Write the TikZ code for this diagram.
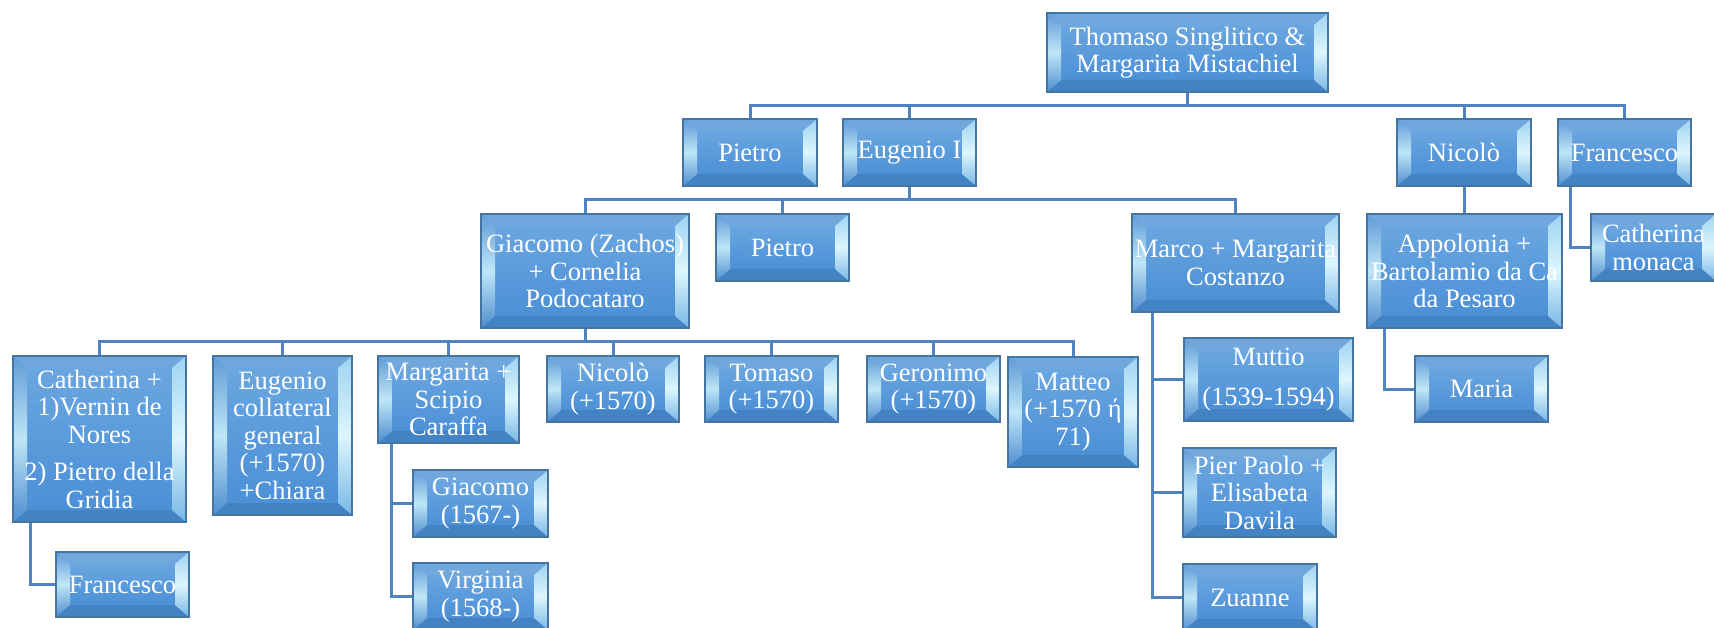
\documentclass[tikz,border=0pt]{standalone}
\usepackage{fontspec}
\setmainfont{Liberation Serif}
\usetikzlibrary{calc,backgrounds}

% palette of the bevelled boxes and the connectors
\definecolor{boxline}{HTML}{44749F}
\definecolor{faceTop}{HTML}{6AA6E0}
\definecolor{faceBot}{HTML}{4C90D6}
\definecolor{facetTop}{HTML}{70A8DE}
\definecolor{facetBot}{HTML}{4483C3}
\definecolor{leftTop}{HTML}{5E9BD6}
\definecolor{leftMid}{HTML}{BFE6F7}
\definecolor{leftBot}{HTML}{4F8DCF}
\definecolor{rightTop}{HTML}{9ED3F2}
\definecolor{rightMid}{HTML}{DDF6FD}
\definecolor{rightBot}{HTML}{78B7E6}
\definecolor{linkcol}{HTML}{4F83BF}

\tikzset{
  bev/.style={rectangle, draw=boxline, line width=1.2pt, fill=faceBot,
    inner sep=0pt, text=white, align=center,
    font=\fontsize{26.5}{27.5}\selectfont,
    path picture={
      \coordinate (bNW) at (path picture bounding box.north west);
      \coordinate (bNE) at (path picture bounding box.north east);
      \coordinate (bSW) at (path picture bounding box.south west);
      \coordinate (bSE) at (path picture bounding box.south east);
      \coordinate (iNW) at ($(bNW)+(14pt,-12pt)$);
      \coordinate (iNE) at ($(bNE)+(-14pt,-12pt)$);
      \coordinate (iSW) at ($(bSW)+(14pt,12pt)$);
      \coordinate (iSE) at ($(bSE)+(-14pt,12pt)$);
      \shade[top color=faceTop, bottom color=faceBot] (iNW) rectangle (iSE);
      \fill[facetTop] (bNW) -- (bNE) -- (iNE) -- (iNW) -- cycle;
      \fill[facetBot] (bSW) -- (bSE) -- (iSE) -- (iSW) -- cycle;
      \shade[top color=leftTop, bottom color=leftBot, middle color=leftMid]
        (bNW) -- (iNW) -- (iSW) -- (bSW) -- cycle;
      \shade[top color=rightTop, bottom color=rightBot, middle color=rightMid]
        (bNE) -- (iNE) -- (iSE) -- (bSE) -- cycle;
    }},
  box/.style 2 args={bev, minimum width=#1pt, minimum height=#2pt},
  link/.style={draw=linkcol, line width=3pt}
}

\begin{document}
\begin{tikzpicture}[x=1pt, y=-1pt]
\useasboundingbox (0,0) rectangle (1714,628);

% generation 0
\node[box={281}{79}] (thomaso) at (1187.5,52.5) {Thomaso Singlitico \&\\Margarita Mistachiel};

% generation 1
\node[box={134}{67}] (pietroA)    at (750,152.5)    {Pietro};
\node[box={133}{67}] (eugenio)    at (909.5,152.5)  {Eugenio I};
\node[box={134}{67}] (nicoloA)    at (1464,152.5)   {Nicolò};
\node[box={133}{67}] (francescoA) at (1624.5,152.5) {Francesco};

% generation 2
\node[box={208}{114}] (giacomo)   at (585,271)      {Giacomo (Zachos)\\+ Cornelia\\Podocataro};
\node[box={133}{67}]  (pietroB)   at (782.5,247.5)  {Pietro};
\node[box={207}{98}]  (marco)     at (1235.5,263)   {Marco + Margarita\\Costanzo};
\node[box={195}{114}] (appolonia) at (1464.5,271)   {Appolonia +\\Bartolamio da Ca\\da Pesaro};
\node[box={125}{67}]  (catmonaca) at (1653.5,247.5) {Catherina\\monaca};

% generation 3
\node[box={173}{166}] (catherinaB) at (99.5,439)   {Catherina +\\1)Vernin de\\Nores\\[10pt]2) Pietro della\\Gridia};
\node[box={139}{159}] (eugenioC)   at (282.5,435.5) {Eugenio\\collateral\\general\\(+1570)\\+Chiara};
\node[box={141}{87}]  (margarita)  at (448.5,399.5) {Margarita +\\Scipio\\Caraffa};
\node[box={132}{66}]  (nicoloB)    at (613,389)     {Nicolò\\(+1570)};
\node[box={133}{66}]  (tomaso)     at (771.5,389)   {Tomaso\\(+1570)};
\node[box={133}{66}]  (geronimo)   at (933.5,389)   {Geronimo\\(+1570)};
\node[box={130}{110}] (matteo)     at (1073,412)    {Matteo\\(+1570 ή\\71)};

\node[box={169}{83}]  (muttio)     at (1268.5,379.5) {Muttio\\[12pt](1539-1594)};
\node[box={153}{89}]  (pierpaolo)  at (1259.5,492.5) {Pier Paolo +\\Elisabeta\\Davila};
\node[box={134}{67}]  (zuanne)     at (1250,597.5)   {Zuanne};
\node[box={133}{66}]  (maria)      at (1481.5,389)   {Maria};

% generation 4
\node[box={133}{65}] (francescoC) at (122.5,584.5) {Francesco};
\node[box={135}{67}] (giacomoD)   at (480.5,503.5) {Giacomo\\(1567-)};
\node[box={135}{67}] (virginia)   at (480.5,596.5) {Virginia\\(1568-)};

\begin{pgfonlayer}{background}
  \fill[white] (0,0) rectangle (1714,628);

  % horizontal rails of the three sibling rows
  \coordinate (railA) at (0,106);
  \coordinate (railB) at (0,200);
  \coordinate (railC) at (0,342);

  \foreach \kid in {pietroA, eugenio, nicoloA, francescoA}
    \draw[link] (thomaso.south) -- (thomaso.south |- railA) -| (\kid.north);

  \foreach \kid in {giacomo, pietroB, marco}
    \draw[link] (eugenio.south) -- (eugenio.south |- railB) -| (\kid.north);

  \foreach \kid in {catherinaB, eugenioC, margarita, nicoloB, tomaso, geronimo, matteo}
    \draw[link] (giacomo.south) -- (giacomo.south |- railC) -| (\kid.north);

  \draw[link] (nicoloA.south) -- (nicoloA.south |- appolonia.north);
  \draw[link] ([xshift=13pt]francescoA.south west) |- (catmonaca.west);

  % side branches of single families
  \draw[link] ([xshift=18pt]catherinaB.south west) |- (francescoC.west);
  \draw[link] ([xshift=14pt]margarita.south west) |- (giacomoD.west);
  \draw[link] ([xshift=14pt]margarita.south west) |- (virginia.west);
  \draw[link] ([xshift=21pt]marco.south west) |- (muttio.west);
  \draw[link] ([xshift=21pt]marco.south west) |- (pierpaolo.west);
  \draw[link] ([xshift=21pt]marco.south west) |- (zuanne.west);
  \draw[link] ([xshift=18pt]appolonia.south west) |- (maria.west);
\end{pgfonlayer}
\end{tikzpicture}
\end{document}
